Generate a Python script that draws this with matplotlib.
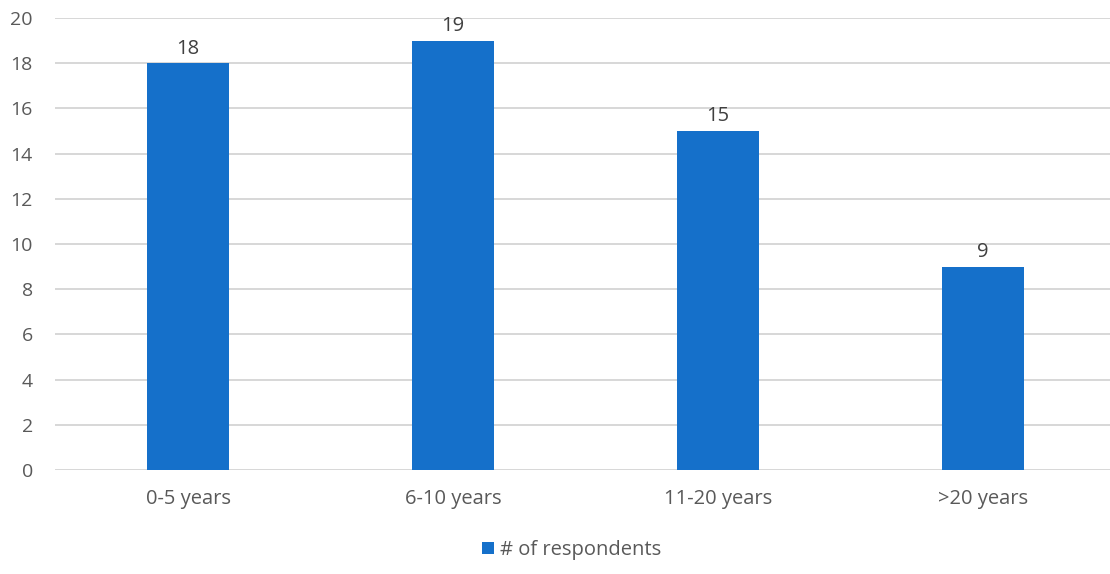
import matplotlib
matplotlib.use("Agg")
import matplotlib.pyplot as plt

categories = ["0-5 years", "6-10 years", "11-20 years", ">20 years"]
respondents = [18, 19, 15, 9]
yticks = [0, 2, 4, 6, 8, 10, 12, 14, 16, 18, 20]

plt.rcParams['font.family'] = ['Open Sans', 'DejaVu Sans']

fig = plt.figure(figsize=(11.1, 5.74), dpi=100)
ax = fig.add_axes([55 / 1110, 104 / 574, 1 - 55 / 1110, 452 / 574])

x = list(range(len(categories)))
bars = ax.bar(x, respondents, width=0.31, color='#1570CA', zorder=3,
              label='# of respondents')
for b, v in zip(bars, respondents):
    ax.text(b.get_x() + b.get_width() / 2, v + 0.2, str(v), ha='center',
            va='bottom', fontsize=14.5, color='#404040')

ax.set_xlim(-0.502, 3.479)
ax.set_ylim(0, 20)
ax.set_yticks(yticks)
ax.set_xticks(x)
ax.set_xticklabels(categories)
ax.grid(axis='y', color='#D4D4D4', linewidth=1.3, zorder=0)
for s in ax.spines.values():
    s.set_visible(False)
ax.tick_params(axis='both', length=0, labelsize=14, labelcolor='#595959')
ax.tick_params(axis='x', labelsize=14.5)
ax.tick_params(axis='y', pad=16)
ax.tick_params(axis='x', pad=14)

fig.legend(handles=[bars], labels=['# of respondents'], loc='center',
           bbox_to_anchor=(572 / 1110, 1 - 550 / 574), frameon=False,
           fontsize=14.5, labelcolor='#595959', handlelength=0.6,
           handleheight=0.6, handletextpad=0.3)

fig.savefig('out.png', dpi=100)
